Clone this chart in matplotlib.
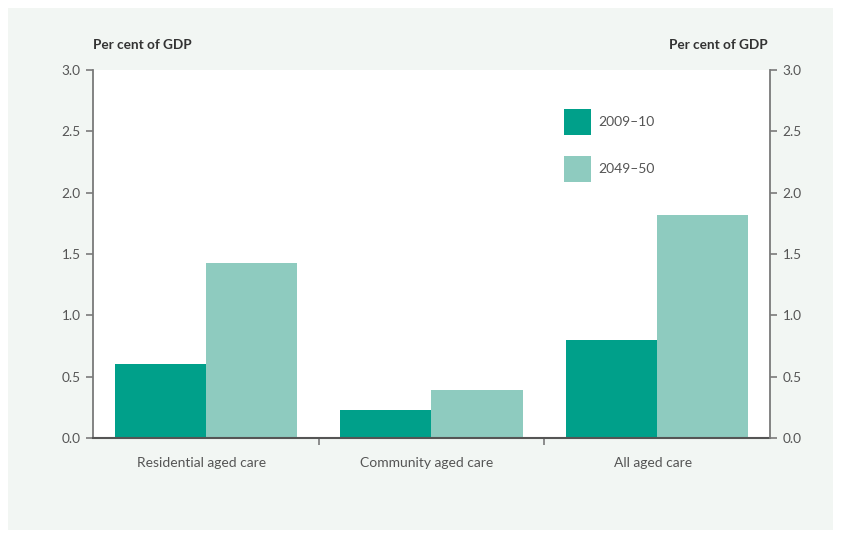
import matplotlib
matplotlib.use("Agg")
import matplotlib.pyplot as plt
from matplotlib.patches import Rectangle
import numpy as np

categories = ["Residential aged care", "Community aged care", "All aged care"]
series_names = ["2009\u201310", "2049\u201350"]
values_2009 = [0.60, 0.23, 0.80]
values_2049 = [1.43, 0.39, 1.82]
yticks = [0.0, 0.5, 1.0, 1.5, 2.0, 2.5, 3.0]

dark = "#00a08a"
light = "#8ecbbf"
panel = "#f2f6f3"
axis_col = "#7a7a7a"
text_col = "#555555"

plt.rcParams['font.family'] = ['Lato', 'DejaVu Sans']

fig = plt.figure(figsize=(8.42, 5.34), dpi=100)
fig.patch.set_facecolor("white")
fig.patches.append(Rectangle((8/842, 1-530/534), (833-8)/842, (530-8)/534,
                             transform=fig.transFigure, facecolor=panel,
                             edgecolor="none", zorder=-10))

ax = fig.add_axes([93/842, 1-438/534, (770-93)/842, (438-70)/534])
ax.set_facecolor("white")
x = np.arange(len(categories))
w = 0.404
b1 = ax.bar(x - w/2, values_2009, w, color=dark, label=series_names[0], zorder=2)
b2 = ax.bar(x + w/2, values_2049, w, color=light, label=series_names[1], zorder=2)

ax.set_xlim(-0.5, 2.5)
ax.set_ylim(0, 3.0)
ax.set_yticks(yticks)
ax.set_yticklabels([f"{v:.1f}" for v in yticks])
ax.set_xticks([0.5, 1.5])
ax.set_xticklabels([])
ax.tick_params(axis='x', direction='out', length=5, width=1.2, color=axis_col)
ax.tick_params(axis='y', direction='out', length=5, width=1.2, color=axis_col,
               labelcolor=text_col, labelsize=9.8, pad=4)
ax.spines["top"].set_visible(False)
ax.spines["right"].set_visible(False)
ax.spines["left"].set_color(axis_col)
ax.spines["left"].set_linewidth(1.3)
ax.spines["bottom"].set_color("#555555")
ax.spines["bottom"].set_linewidth(1.5)

ax2 = ax.twinx()
ax2.set_ylim(0, 3.0)
ax2.set_yticks(yticks)
ax2.set_yticklabels([f"{v:.1f}" for v in yticks])
ax2.tick_params(axis='y', direction='out', length=5, width=1.2, color=axis_col,
                labelcolor=text_col, labelsize=9.8, pad=4)
for s in ["top", "left", "bottom"]:
    ax2.spines[s].set_visible(False)
ax2.spines["right"].set_color(axis_col)
ax2.spines["right"].set_linewidth(1.3)

for i, c in enumerate(categories):
    ax.text(x[i] - 0.02, -0.205, c, ha="center", va="center", fontsize=10, color=text_col)

fig.text(93/842, 1-45/534, "Per cent of GDP", ha="left", va="center",
         fontsize=9.8, fontweight="bold", color="#333333")
fig.text(768/842, 1-45/534, "Per cent of GDP", ha="right", va="center",
         fontsize=9.8, fontweight="bold", color="#333333")

leg = ax.legend(loc="upper left", bbox_to_anchor=(0.6957, 0.894), frameon=False,
                borderpad=0, borderaxespad=0,
                handlelength=1.95, handleheight=2.45, labelspacing=1.55,
                handletextpad=0.5, fontsize=10)
for t in leg.get_texts():
    t.set_color(text_col)

fig.savefig("out.png", dpi=100, facecolor="white")
